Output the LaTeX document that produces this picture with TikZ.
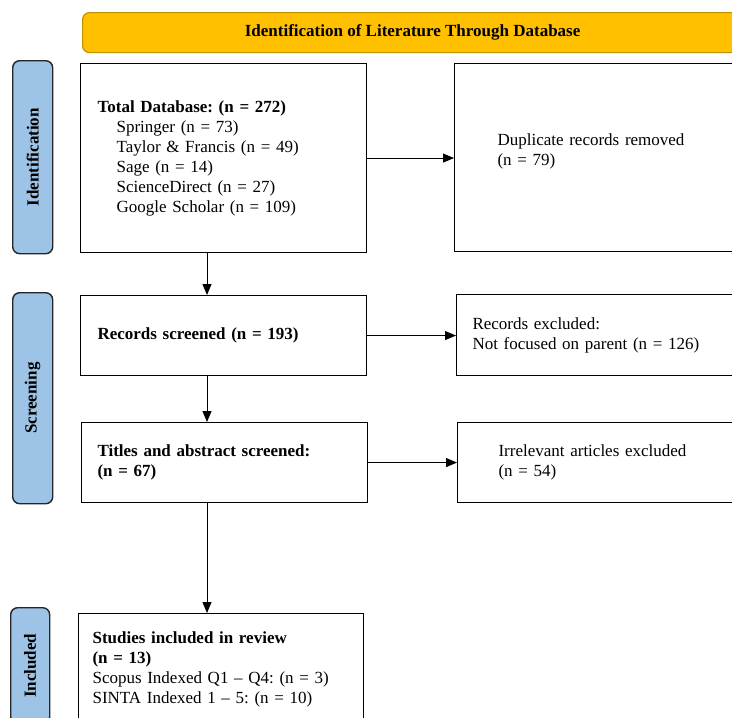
\documentclass[tikz,border=0pt]{standalone}
\usepackage{fontspec}
\setmainfont{Liberation Serif}
\usepackage{graphicx}
\usetikzlibrary{arrows.meta,calc}
\definecolor{bannerfill}{HTML}{FFC000}
\definecolor{bannerline}{HTML}{BF9000}
\definecolor{phasefill}{HTML}{9DC3E6}
\frenchspacing
\begin{document}
\begin{tikzpicture}[x=1pt,y=1pt,
  box/.style={draw=black, line width=1.1pt, fill=white, inner ysep=0pt,
    anchor=north west, align=left, font=\fontsize{17}{20}\selectfont},
  phase/.style={draw=black!85, line width=1.4pt, fill=phasefill, rounded corners=7pt,
    anchor=north west, minimum width=40pt, inner sep=0pt,
    font=\fontsize{17}{20}\selectfont\bfseries},
  banner/.style={draw=bannerline, line width=1.2pt, fill=bannerfill, rounded corners=7pt,
    anchor=north west, minimum width=660pt, minimum height=40pt, inner sep=0pt,
    font=\fontsize{17}{20}\selectfont\bfseries},
  arr/.style={draw=black, line width=0.9pt, -{Triangle[length=11pt,width=9pt]}}
]
\useasboundingbox (0,0) rectangle (732,-718);
\clip (0,0) rectangle (732,-718);

% banner
\node[banner] (ban) at (82,-12) {Identification of Literature Through Database};

% phase labels
\node[phase, minimum height=193pt] (pid) at (12,-60) {\rotatebox{90}{Identification}};
\node[phase, minimum height=211pt] (psc) at (12,-292) {\rotatebox{90}{Screening}};
\node[phase, minimum height=116pt, minimum width=39pt] (pin) at (10,-607) {\rotatebox{90}{Included}};

% left column
\node[box, inner xsep=17pt, text width=252pt, minimum height=189pt] (total) at (80,-63)
  {\textbf{Total Database: (n = 272)}\\
   \hspace*{19pt}Springer (n = 73)\\
   \hspace*{19pt}Taylor \& Francis (n = 49)\\
   \hspace*{19pt}Sage (n = 14)\\
   \hspace*{19pt}ScienceDirect (n = 27)\\
   \hspace*{19pt}Google Scholar (n = 109)};
\node[box, inner xsep=17pt, text width=252pt, minimum height=80pt] (screened) at (80,-295)
  {\textbf{Records screened (n = 193)}};
\node[box, inner xsep=16pt, text width=254pt, minimum height=80pt] (titles) at (81,-422)
  {\textbf{Titles and abstract screened:}\\\textbf{(n = 67)}};
\node[box, inner xsep=14pt, text width=257pt, minimum height=112pt] (studies) at (78,-613)
  {\textbf{Studies included in review}\\
   \textbf{(n = 13)}\\
   Scopus Indexed Q1 -- Q4: (n = 3)\\
   SINTA Indexed 1 -- 5: (n = 10)};

% right column
\node[box, inner xsep=43pt, text width=260pt, minimum height=188pt] (dup) at (454,-63)
  {Duplicate records removed\\(n = 79)\\[-4pt]\mbox{}};
\node[box, inner xsep=16pt, text width=312pt, minimum height=81pt] (excl) at (456,-294)
  {Records excluded:\\Not focused on parent (n = 126)};
\node[box, inner xsep=41pt, text width=261pt, minimum height=80pt] (irr) at (457,-422)
  {Irrelevant articles excluded\\(n = 54)};

% connectors
\coordinate (xa) at (207,0);
\draw[arr] (total.east) -- (total.east -| dup.west);
\draw[arr] (screened.east) -- (screened.east -| excl.west);
\draw[arr] (titles.east) -- (titles.east -| irr.west);
\draw[arr] (total.south -| xa) -- (screened.north -| xa);
\draw[arr] (screened.south -| xa) -- (titles.north -| xa);
\draw[arr] (titles.south -| xa) -- (studies.north -| xa);
\end{tikzpicture}
\end{document}
